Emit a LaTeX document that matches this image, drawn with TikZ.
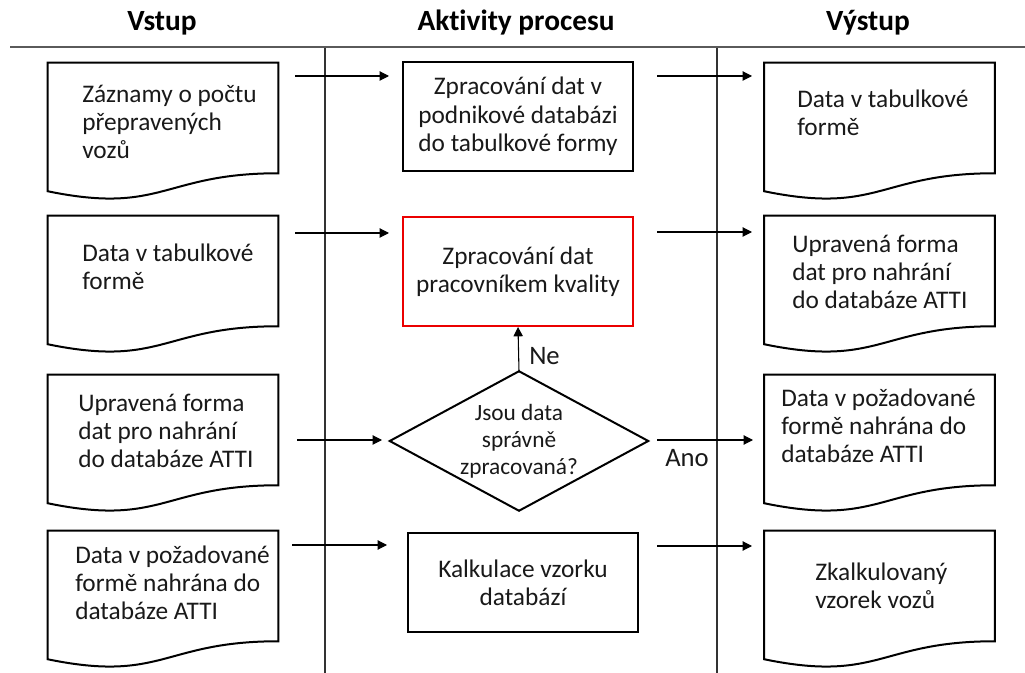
\documentclass[tikz,border=0pt]{standalone}
\usepackage{fontspec}
\setmainfont{Carlito}[Ligatures=NoCommon]
\usetikzlibrary{arrows.meta,calc}

\definecolor{txt}{RGB}{25,25,25}
\definecolor{rulecol}{RGB}{90,90,90}
\definecolor{lanecol}{RGB}{50,50,50}
\definecolor{alert}{RGB}{235,0,0}

% document symbol: flat top, wavy bottom hanging below the node box
\newcommand\docoutline[1]{%
  \draw[outline] (#1.north west) -- (#1.north east) -- (#1.south east)
    .. controls ($(#1.south)$) and ($(#1.south)+(0,41.7)$) ..
    ($(#1.south west)+(0,18)$) -- cycle;}

\begin{document}
\begin{tikzpicture}[x=0.75pt,y=-0.75pt,
  body/.style={font=\fontsize{19pt}{21.2pt}\selectfont, text=txt},
  docshape/.style={minimum width=172.5pt, minimum height=82.5pt, inner sep=0pt},
  doctext/.style={body, anchor=west, inner sep=0pt, align=left},
  procbox/.style={body, draw, line width=1.5pt, minimum width=172.5pt, inner sep=0pt, align=center},
  outline/.style={draw, line width=1.5pt, line join=miter},
  arr/.style={line width=0.8pt, -{Triangle[length=7pt,width=7pt]}},
  lane/.style={draw=lanecol, line width=0.8pt},
  head/.style={font=\fontsize{22pt}{26pt}\selectfont\bfseries, anchor=base, inner sep=0pt},
  answer/.style={font=\fontsize{20pt}{24pt}\selectfont, text=txt, anchor=base west, inner sep=0pt}
]
\useasboundingbox (0,0) rectangle (1025,673);

% column headings and lane separators
\node[head] (hin)  at (162,31) {Vstup};
\node[head] (hact) at (516,31) {Aktivity procesu};
\node[head] (hout) at (868,31) {Výstup};

\coordinate (hl) at (10,47);   \coordinate (hr) at (1025,47);
\coordinate (s1t) at (325,47); \coordinate (s1b) at (325,673);
\coordinate (s2t) at (717,47); \coordinate (s2b) at (717,673);
\draw[lane] (s1t) -- (s1b);
\draw[lane] (s2t) -- (s2b);
\draw[line width=1.6pt, draw=rulecol] (hl) -- (hr);

% inputs
\node[docshape] (in1) at (163,118) {};
\node[docshape] (in2) at (163,271) {};
\node[docshape] (in3) at (163,430) {};
\node[docshape] (in4) at (163,586) {};
\node[doctext] (in1t) at (82,122) {Záznamy o počtu\\přepravených\\vozů};
\node[doctext] (in2t) at (82,267) {Data v tabulkové\\formě};
\node[doctext] (in3t) at (78,431) {Upravená forma\\dat pro nahrání\\do databáze ATTI};
\node[doctext] (in4t) at (75,583) {Data v požadované\\formě nahrána do\\databáze ATTI};

% outputs
\node[docshape] (out1) at (879.5,118) {};
\node[docshape] (out2) at (879.5,271) {};
\node[docshape] (out3) at (879.5,430) {};
\node[docshape] (out4) at (879.5,586) {};
\node[doctext] (out1t) at (797,113) {Data v tabulkové\\formě};
\node[doctext] (out2t) at (792,272) {Upravená forma\\dat pro nahrání\\do databáze ATTI};
\node[doctext] (out3t) at (781,426) {Data v požadované\\formě nahrána do\\databáze ATTI};
\node[doctext] (out4t) at (815,586) {Zkalkulovaný\\vzorek vozů};

\foreach \d in {in1,in2,in3,in4,out1,out2,out3,out4} {\docoutline{\d}}

% process activities
\node[procbox, minimum height=81.75pt] (p1) at (518,116.5)
  {Zpracování dat v\\podnikové databázi\\do tabulkové formy};
\node[procbox, draw=alert, minimum height=81.75pt] (p2) at (518,271.5)
  {Zpracování dat\\pracovníkem kvality};
\node[body, font=\fontsize{17.5pt}{20.4pt}\selectfont, minimum width=193.5pt,
      minimum height=104.25pt, inner sep=0pt, align=center] (dec) at (519,441)
  {Jsou data\\správně\\zpracovaná?};
\draw[outline] (dec.north) -- (dec.east) -- (dec.south) -- (dec.west) -- cycle;
\node[procbox, minimum height=74.25pt] (p4) at (523,582.5)
  {Kalkulace vzorku\\databází};

% flow arrows between lanes
\coordinate (a1s) at (295,76);  \coordinate (a1e) at (389,76);
\coordinate (b1s) at (657,76);  \coordinate (b1e) at (752,76);
\coordinate (a2s) at (295,233); \coordinate (a2e) at (389,233);
\coordinate (b2s) at (657,232); \coordinate (b2e) at (752,232);
\coordinate (a3s) at (297,440); \coordinate (a3e) at (382,440);
\coordinate (b3s) at (657,440); \coordinate (b3e) at (753,440);
\coordinate (a4s) at (292,545); \coordinate (a4e) at (387,545);
\coordinate (b4s) at (657,546); \coordinate (b4e) at (752,546);
\foreach \r in {1,2,3,4} {
  \draw[arr] (a\r s) -- (a\r e);
  \draw[arr] (b\r s) -- (b\r e);
}

% decision branch back to the quality check
\draw[arr] (dec.north) -- (p2.south);
\node[answer] (ne)  at (529,365) {Ne};
\node[answer] (ano) at (665,467) {Ano};
\end{tikzpicture}
\end{document}
